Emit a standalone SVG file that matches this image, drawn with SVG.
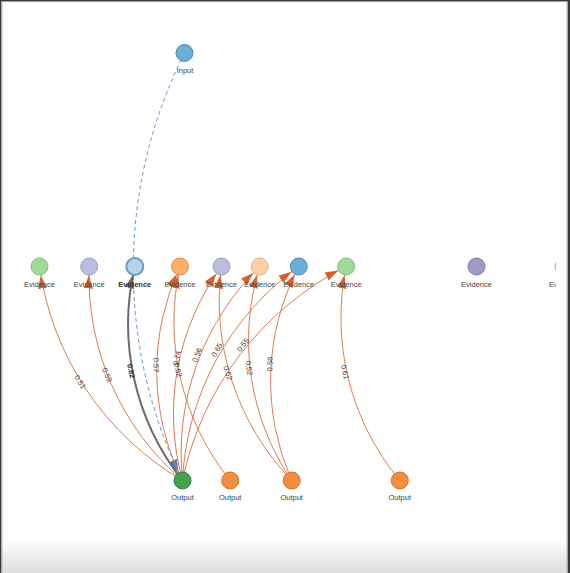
<svg xmlns="http://www.w3.org/2000/svg" width="570" height="573" viewBox="0 0 570 573">
<style>
.lbl{font-family:"Liberation Sans",Arial,sans-serif;font-size:7.5px;fill:#444;text-anchor:middle}
.el{font-family:"Liberation Sans",Arial,sans-serif;font-size:7.5px;fill:#444;text-anchor:middle;dominant-baseline:central}
.e{fill:none;stroke:#e07b4f;stroke-width:1;marker-end:url(#ao)}
.g{fill:none;stroke:#6b6b6b;stroke-width:2;marker-end:url(#ag)}
.d{fill:none;stroke:#5b9bd5;stroke-width:1;stroke-dasharray:4 3;marker-end:url(#ab)}
circle{stroke-width:1}
</style>
<defs>
<linearGradient id="bot" x1="0" y1="0" x2="0" y2="1">
<stop offset="0" stop-color="#ffffff"/>
<stop offset="1" stop-color="#dcdcdc"/>
</linearGradient>
<clipPath id="cp"><rect x="0" y="0" width="556" height="573"/></clipPath>
<marker id="ao" markerUnits="userSpaceOnUse" markerWidth="26" markerHeight="14" viewBox="0 -7 26 14" refX="22" refY="0" orient="auto"><path d="M0,-4.5 L13,0 L0,4.5 Z" fill="#d95f2b"/></marker>
<marker id="ag" markerUnits="userSpaceOnUse" markerWidth="26" markerHeight="14" viewBox="0 -7 26 14" refX="22" refY="0" orient="auto"><path d="M0,-4.5 L13,0 L0,4.5 Z" fill="#666"/></marker>
<marker id="ab" markerUnits="userSpaceOnUse" markerWidth="26" markerHeight="14" viewBox="0 -7 26 14" refX="22" refY="0" orient="auto"><path d="M0,-4.5 L13,0 L0,4.5 Z" fill="#3b7dc4"/></marker>
</defs>
<rect x="0" y="0" width="570" height="573" fill="#fff"/>
<rect x="0" y="540" width="570" height="33" fill="url(#bot)"/>
<g clip-path="url(#cp)">
<g id="connectors">
<path class="d" d="M184.5,53 A480,480 0 0 0 182.5,480.5"/>
<path class="e" d="M182.5,480.5 A295,295 0 0 1 39.5,266.5"/>
<path class="e" d="M182.5,480.5 A268,268 0 0 1 89.2,266.5"/>
<path class="g" d="M182.5,480.5 A252,252 0 0 1 134.8,266.5"/>
<path class="e" d="M182.5,480.5 A246,246 0 0 1 180,266.5"/>
<path class="e" d="M182.5,480.5 A250,250 0 0 1 221.5,266.5"/>
<path class="e" d="M182.5,480.5 A262,262 0 0 1 259.7,266.5"/>
<path class="e" d="M182.5,480.5 A280,280 0 0 1 298.8,266.5"/>
<path class="e" d="M182.5,480.5 A311,311 0 0 1 346.2,266.5"/>
<path class="e" d="M230.2,480.5 A253,253 0 0 1 180,266.5"/>
<path class="e" d="M291.7,480.5 A259,259 0 0 1 221.5,266.5"/>
<path class="e" d="M291.7,480.5 A249,249 0 0 1 259.7,266.5"/>
<path class="e" d="M291.7,480.5 A246,246 0 0 1 298.8,266.5"/>
<path class="e" d="M399.8,480.5 A254,254 0 0 1 346.2,266.5"/>
<text class="el" transform="translate(80,382) rotate(56.4)">0.51</text>
<text class="el" transform="translate(107,375) rotate(66.7)">0.59</text>
<text class="el" transform="translate(131,371) rotate(77.6)" style="font-weight:bold;fill:#333">0.82</text>
<text class="el" transform="translate(156,365) rotate(89.7)">0.57</text>
<text class="el" transform="translate(177,358) rotate(-79.4)">0.74</text>
<text class="el" transform="translate(178,370) rotate(76.8)">0.52</text>
<text class="el" transform="translate(197,355) rotate(-70)">0.56</text>
<text class="el" transform="translate(217,350) rotate(-61.3)">0.65</text>
<text class="el" transform="translate(243,345) rotate(-52.4)">0.55</text>
<text class="el" transform="translate(228,373) rotate(71.9)">0.52</text>
<text class="el" transform="translate(249,368) rotate(81.5)">0.52</text>
<text class="el" transform="translate(270,364) rotate(-88.1)">0.58</text>
<text class="el" transform="translate(345,372) rotate(76.1)">0.61</text>
</g>
<g id="input"><circle cx="184.5" cy="53" r="8.5" fill="#6baed6" stroke="#4a8ab8"/><text class="lbl" x="185" y="72.5" fill="#444">Input</text></g>
<g id="ev1"><circle cx="39.5" cy="266.5" r="8.5" fill="#a1d99b" stroke="#80bf79"/><text class="lbl" x="39.5" y="286.7">Evidence</text></g>
<g id="ev2"><circle cx="89.2" cy="266.5" r="8.5" fill="#bcbddc" stroke="#9a9bc4"/><text class="lbl" x="89.2" y="286.7">Evidence</text></g>
<g id="ev3"><circle cx="134.8" cy="266.5" r="8.5" fill="#b3d3ea" stroke="#6a9cc0" style="stroke-width:2"/><text class="lbl" x="134.8" y="286.7" style="font-weight:bold;fill:#333">Evidence</text></g>
<g id="ev4"><circle cx="180" cy="266.5" r="8.5" fill="#fdae6b" stroke="#e08a45"/><text class="lbl" x="180" y="286.7">Evidence</text></g>
<g id="ev5"><circle cx="221.5" cy="266.5" r="8.5" fill="#bcbddc" stroke="#9a9bc4"/><text class="lbl" x="221.5" y="286.7">Evidence</text></g>
<g id="ev6"><circle cx="259.7" cy="266.5" r="8.5" fill="#fdd0a2" stroke="#e0b080"/><text class="lbl" x="259.7" y="286.7">Evidence</text></g>
<g id="ev7"><circle cx="298.8" cy="266.5" r="8.5" fill="#6baed6" stroke="#4a8ab8"/><text class="lbl" x="298.8" y="286.7">Evidence</text></g>
<g id="ev8"><circle cx="346.2" cy="266.5" r="8.5" fill="#a1d99b" stroke="#80bf79"/><text class="lbl" x="346.2" y="286.7">Evidence</text></g>
<g id="ev9"><circle cx="476.5" cy="266.5" r="8.5" fill="#9e9ac8" stroke="#7f7ab0"/><text class="lbl" x="476.5" y="286.7">Evidence</text></g>
<g id="ev10"><circle cx="563.5" cy="266.5" r="8.5" fill="#dadaeb" stroke="#aaa"/><text class="lbl" x="564.5" y="286.7">Evidence</text></g>
<g id="out1"><circle cx="182.5" cy="480.5" r="8.5" fill="#45a04a" stroke="#2f8034"/><text class="lbl" x="182.5" y="499.5">Output</text></g>
<g id="out2"><circle cx="230.2" cy="480.5" r="8.5" fill="#f48d3e" stroke="#d06f25"/><text class="lbl" x="230.2" y="499.5">Output</text></g>
<g id="out3"><circle cx="291.7" cy="480.5" r="8.5" fill="#f48d3e" stroke="#d06f25"/><text class="lbl" x="291.7" y="499.5">Output</text></g>
<g id="out4"><circle cx="399.8" cy="480.5" r="8.5" fill="#f48d3e" stroke="#d06f25"/><text class="lbl" x="399.8" y="499.5">Output</text></g>
</g>
<rect x="0" y="0" width="570" height="1.5" fill="#3a3a3a"/>
<rect x="0" y="0" width="1.5" height="573" fill="#3a3a3a"/>
<rect x="1.5" y="1.5" width="1" height="571.5" fill="#bbb"/>
<rect x="567.5" y="0" width="2.5" height="573" fill="#3a3a3a"/>
<rect x="566.5" y="1.5" width="1" height="571.5" fill="#bbb"/>
</svg>
